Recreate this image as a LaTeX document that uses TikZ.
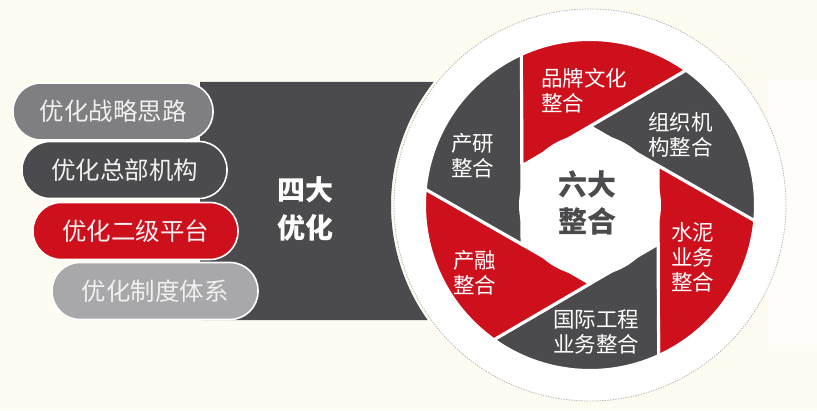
\documentclass[tikz,border=0pt]{standalone}
\usepackage{fontspec}
\setmainfont{Noto Sans CJK SC}
\definecolor{bgcream}{RGB}{254,251,241}
\definecolor{myred}{RGB}{206,16,28}
\definecolor{mydark}{RGB}{75,75,77}
\definecolor{pillgray}{RGB}{127,127,129}
\definecolor{pilllight}{RGB}{168,168,170}
\definecolor{ringdash}{RGB}{180,180,180}
\begin{document}
\begin{tikzpicture}[x=1pt,y=1pt,
  pill/.style={draw=white, line width=1.6pt, rounded corners=28pt, minimum height=57pt,
    text=white!94!black, font=\fontsize{24.5}{27}\selectfont, inner sep=0pt},
  blade/.style={draw=white, line width=3pt, line join=miter},
  lbl/.style={text=white, font=\fontsize{21.5}{25}\selectfont, align=left, inner sep=0pt, anchor=west},
  bigtxt/.style={font=\bfseries\fontsize{28}{38}\selectfont, align=center, inner sep=0pt}]
\useasboundingbox (0,0) rectangle (817,410);
\fill[bgcream] (0,0) rectangle (817,410);
\fill[white!60!bgcream] (768,65) rectangle (817,330);
\coordinate (C) at (590,205);
% ring background
\fill[white] (C) circle[radius=196];
\draw[ringdash, line width=0.8pt, dash pattern=on 1.3pt off 1.3pt] (C) circle[radius=196];
% dark panel
\fill[mydark] (200,328) -- (433.6,328) arc[start angle=141.8, end angle=215.3, radius=199] -- (200,90) -- cycle;
% shutter blades
\foreach \k/\c in {0/myred,1/mydark,2/myred,3/mydark,4/myred,5/mydark}{
  \pgfmathsetmacro\va{150-60*\k}
  \pgfmathsetmacro\pa{114.5-60*\k}
  \pgfmathsetmacro\pb{54.5-60*\k}
  \filldraw[blade, fill=\c, shift={(590,205)}] (\va:78.5) -- (\pa:165.5) arc[start angle=\pa, end angle=\pb, radius=165.5] -- cycle;
}
\fill[white] (C) circle[radius=71];
% pills
\node[pill, fill=pillgray, minimum width=200pt] (p1) at (113,298.5) {优化战略思路};
\node[pill, fill=mydark, minimum width=205pt] (p2) at (124.5,240) {优化总部机构};
\node[pill, fill=myred, minimum width=205pt] (p3) at (135.5,179) {优化二级平台};
\node[pill, fill=pilllight, minimum width=206pt] (p4) at (155,119) {优化制度体系};
% titles
\node[bigtxt, text=white] (sida) at (305,201.5) {四大\\优化};
\node[bigtxt, text=mydark, font=\bfseries\fontsize{29}{37}\selectfont] (liuda) at (587,207) {六大\\整合};
% blade labels
\node[lbl] (pp) at (541,319.5) {品牌文化\\整合};
\node[lbl] (zz) at (648,275) {组织机\\构整合};
\node[lbl] (cy) at (451,254.5) {产研\\整合};
\node[lbl] (sn) at (671,153) {水泥\\业务\\整合};
\node[lbl] (cr) at (453,137.5) {产融\\整合};
\node[lbl] (gj) at (553,78.5) {国际工程\\业务整合};
\end{tikzpicture}
\end{document}
